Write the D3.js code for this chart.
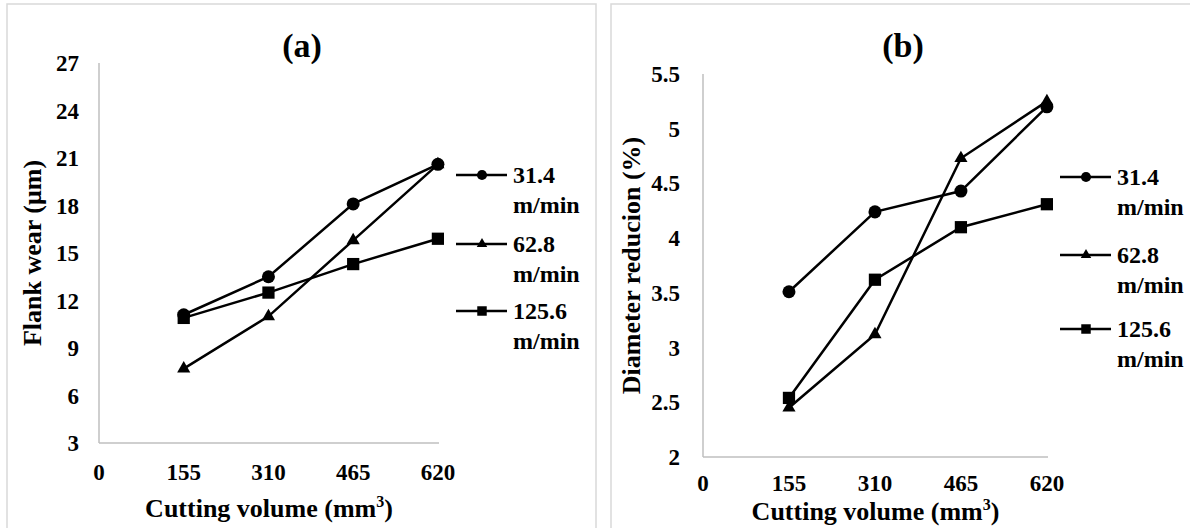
<!DOCTYPE html>
<html>
<head>
<meta charset="utf-8">
<script src="https://cdn.jsdelivr.net/npm/d3@7"></script>
<style>
  body { margin: 0; background: #fff; }
</style>
</head>
<body>
<svg id="chart" width="1190" height="528" font-family="'Liberation Serif', 'DejaVu Serif', serif" font-weight="bold"></svg>
<script>
// data
const volumes = [155, 310, 465, 620];
const xTicks = [0, 155, 310, 465, 620];
const speeds = ["31.4", "62.8", "125.6"];
const markers = ["circle", "triangle", "square"];

const wear314 = [11.1, 13.5, 18.1, 20.6];
const wear628 = [7.7, 11.0, 15.8, 20.6];
const wear1256 = [10.9, 12.5, 14.3, 15.9];
const wearTicks = [3, 6, 9, 12, 15, 18, 21, 24, 27];

const diam314 = [3.51, 4.24, 4.43, 5.2];
const diam628 = [2.45, 3.12, 4.73, 5.25];
const diam1256 = [2.54, 3.62, 4.1, 4.31];
const diamTicks = [2, 2.5, 3, 3.5, 4, 4.5, 5, 5.5];

const svg = d3.select("#chart");

const symbolFor = {
    circle: d3.symbolCircle,
    triangle: d3.symbolTriangle,
    square: d3.symbolSquare
};
const plotSize = { circle: 133, triangle: 75, square: 150 };
const legSize = { circle: 80, triangle: 48, square: 90 };

function drawPanel(p) {
    const g = svg.append("g");

    // panel frame
    g.append("rect")
        .attr("x", p.box[0]).attr("y", 4)
        .attr("width", p.box[1] - p.box[0]).attr("height", 600)
        .attr("fill", "none").attr("stroke", "#d9d9d9").attr("stroke-width", 1.5);

    const x = d3.scaleLinear().domain([0, 622]).range([p.left, p.right]);
    const y = d3.scaleLinear().domain(p.yDomain).range([p.bottom, p.top]);

    // axis lines only, no grid
    g.append("line")
        .attr("x1", p.left).attr("x2", p.left)
        .attr("y1", p.top).attr("y2", p.bottom)
        .attr("stroke", "#bfbfbf").attr("stroke-width", 1.5);
    g.append("line")
        .attr("x1", p.left).attr("x2", p.right)
        .attr("y1", p.bottom).attr("y2", p.bottom)
        .attr("stroke", "#bfbfbf").attr("stroke-width", 1.5);

    g.selectAll(".ytick").data(p.yTicks).enter().append("text")
        .attr("x", p.left - p.yTickGap)
        .attr("y", d => y(d))
        .attr("dy", "0.35em")
        .attr("text-anchor", "end")
        .attr("font-size", 23)
        .text(d => d);

    g.selectAll(".xtick").data(xTicks).enter().append("text")
        .attr("x", d => x(d))
        .attr("y", p.xTickY)
        .attr("text-anchor", "middle")
        .attr("font-size", 23)
        .text(d => d);

    // titles
    g.append("text")
        .attr("x", p.titleX).attr("y", 57)
        .attr("text-anchor", "middle")
        .attr("font-size", 34)
        .text(p.title);

    const xt = g.append("text")
        .attr("x", (p.left + p.right) / 2).attr("y", p.xTitleY)
        .attr("text-anchor", "middle")
        .attr("font-size", 26);
    xt.append("tspan").text("Cutting volume (mm");
    xt.append("tspan").attr("font-size", 16).attr("dy", -10).text("3");
    xt.append("tspan").attr("dy", 10).text(")");

    g.append("text")
        .attr("transform", `translate(${p.yTitleX},${(p.top + p.bottom) / 2}) rotate(-90)`)
        .attr("text-anchor", "middle")
        .attr("font-size", 26)
        .text(p.yTitle);

    // series
    const line = d3.line().x((d, i) => x(volumes[i])).y(d => y(d));
    p.series.forEach((vals, si) => {
        g.append("path")
            .attr("d", line(vals))
            .attr("fill", "none").attr("stroke", "#000").attr("stroke-width", 2.5);
        g.selectAll(".m" + si).data(vals).enter().append("path")
            .attr("d", d3.symbol().type(symbolFor[markers[si]]).size(plotSize[markers[si]]))
            .attr("transform", (d, i) => `translate(${x(volumes[i])},${y(d)})`)
            .attr("fill", "#000");
    });

    // legend
    speeds.forEach((s, si) => {
        const ly = p.legY[si];
        g.append("line")
            .attr("x1", p.legX).attr("x2", p.legX + 51)
            .attr("y1", ly).attr("y2", ly)
            .attr("stroke", "#000").attr("stroke-width", 2.5);
        g.append("path")
            .attr("d", d3.symbol().type(symbolFor[markers[si]]).size(legSize[markers[si]]))
            .attr("transform", `translate(${p.legX + 26},${ly})`)
            .attr("fill", "#000");
        const t = g.append("text")
            .attr("x", p.legX + 57).attr("y", ly + 8)
            .attr("font-size", 24);
        t.append("tspan").text(s);
        t.append("tspan").attr("x", p.legX + 57).attr("dy", 30).text("m/min");
    });
}

drawPanel({
    box: [7, 596],
    left: 99, right: 439, top: 63, bottom: 443,
    yDomain: [3, 27], yTicks: wearTicks, yTickGap: 20,
    xTickY: 480, xTitleY: 517,
    title: "(a)", titleX: 302,
    yTitle: "Flank wear (\u03bcm)", yTitleX: 41,
    series: [wear314, wear628, wear1256],
    legX: 456, legY: [175, 244, 311]
});

drawPanel({
    box: [611, 1200],
    left: 703, right: 1048, top: 74, bottom: 457,
    yDomain: [2, 5.5], yTicks: diamTicks, yTickGap: 23,
    xTickY: 491, xTitleY: 520,
    title: "(b)", titleX: 903,
    yTitle: "Diameter reducion (%)", yTitleX: 640,
    series: [diam314, diam628, diam1256],
    legX: 1060, legY: [177, 255, 329]
});
</script>
</body>
</html>
